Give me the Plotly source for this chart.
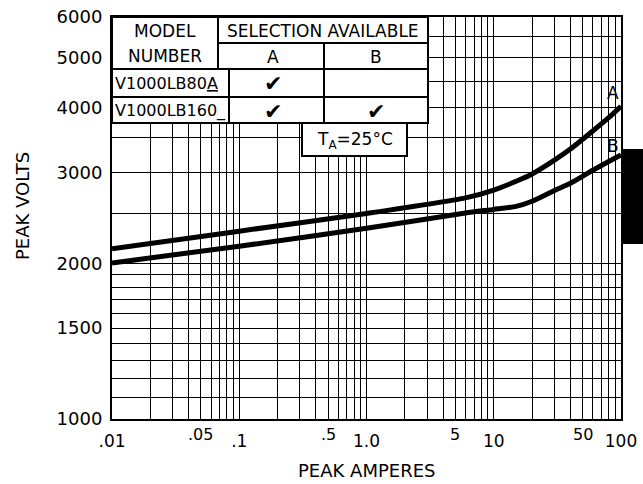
import math
import plotly.graph_objects as go

# ---------------- data ----------------
amps = [0.01, 0.1, 1, 6, 10, 15, 20, 30, 40, 60, 80, 100]
volts_a = [2135, 2310, 2500, 2680, 2775, 2885, 2980, 3170, 3330, 3610, 3830, 4030]
volts_b = [2005, 2160, 2340, 2505, 2545, 2580, 2640, 2770, 2860, 3030, 3150, 3245]

x_grid = [m * 10 ** e for e in (-2, -1, 0, 1) for m in range(1, 10)] + [100]
x_major = [0.01, 0.1, 1, 10, 100]
x_major_text = [".01", ".1", "1.0", "10", "100"]
x_half = [0.05, 0.5, 5, 50]
x_half_text = [".05", ".5", "5", "50"]

y_grid = list(range(1000, 2001, 100)) + list(range(2500, 6001, 500))
y_label_vals = [1000, 1500, 2000, 3000, 4000, 5000, 6000]
y_label_text = ["1000", "1500", "2000", "3000", "4000", "5000", "6000"]

table_header = ["MODEL", "NUMBER", "SELECTION AVAILABLE", "A", "B"]
models = ["V1000LB80<u>A</u>", "V1000LB160_"]
sel_a = [True, True]
sel_b = [False, True]

FONT = "DejaVu Sans"
W, H = 643, 484
# plot area in screenshot pixels: x 112..621, y 17..419
PL, PR, PT, PB = 112, 621, 17, 419
L, T, R, B = PL, PT, W - PR, H - PB
PW, PH = PR - PL, PB - PT


def px(x):
    return (x - PL) / PW


def py(y):
    return (PB - y) / PH


fig = go.Figure()
for ys, name in ((volts_a, "A"), (volts_b, "B")):
    fig.add_trace(go.Scatter(x=amps, y=ys, mode="lines", name=name,
                             line=dict(color="black", width=5, shape="spline", smoothing=0.6),
                             showlegend=False, hoverinfo="skip"))

grid_style = dict(showgrid=True, gridcolor="black", gridwidth=1.3)
fig.update_xaxes(type="log", range=[-2, 2], tickmode="array",
                 tickvals=x_major, ticktext=x_major_text,
                 minor=dict(tickmode="array", tickvals=x_grid, ticks="", **grid_style),
                 **grid_style, automargin=False, ticklabeloverflow="allow",
                 showline=True, linecolor="black", linewidth=2, mirror=True,
                 ticks="", ticklabelstandoff=6, zeroline=False,
                 tickfont=dict(family=FONT, size=17, color="black"))
fig.update_yaxes(type="log", range=[3, math.log10(6000)], tickmode="array",
                 tickvals=y_label_vals, ticktext=y_label_text,
                 minor=dict(tickmode="array", tickvals=y_grid, ticks="", **grid_style),
                 **grid_style, automargin=False, ticklabeloverflow="allow",
                 showline=True, linecolor="black", linewidth=2, mirror=True,
                 ticks="", ticklabelstandoff=4, zeroline=False,
                 tickfont=dict(family=FONT, size=18, color="black"))

shapes = []
ann = []


def line(x0, y0, x1, y1, w=2):
    shapes.append(dict(type="line", xref="paper", yref="paper",
                       x0=px(x0), y0=py(y0), x1=px(x1), y1=py(y1),
                       line=dict(color="black", width=w)))


def text(x, y, s, size=17, xanchor="center", angle=0):
    ann.append(dict(x=px(x), y=py(y), xref="paper", yref="paper", text=s,
                    showarrow=False, xanchor=xanchor, yanchor="middle", textangle=angle,
                    font=dict(family=FONT, size=size, color="black")))


# table background and borders
shapes.append(dict(type="rect", xref="paper", yref="paper", x0=px(112), x1=px(428),
                   y0=py(123), y1=py(17), fillcolor="white",
                   line=dict(color="black", width=2), layer="above"))
line(218, 43, 428, 43)
line(112, 69, 428, 69)
line(112, 97, 428, 97)
line(218, 17, 218, 69)
line(229, 69, 229, 123)
line(324, 43, 324, 123)
# T_A box
shapes.append(dict(type="rect", xref="paper", yref="paper", x0=px(302), x1=px(407),
                   y0=py(156), y1=py(123), fillcolor="white",
                   line=dict(color="black", width=2), layer="above"))
# black tab on the right edge
shapes.append(dict(type="rect", xref="paper", yref="paper", x0=px(622), x1=px(660),
                   y0=py(244), y1=py(149), fillcolor="black",
                   line=dict(color="black", width=0), layer="above"))

text(165, 31, table_header[0])
text(165, 56, table_header[1])
text(323, 31, table_header[2])
text(273, 57, table_header[3])
text(376, 57, table_header[4])
for i, m in enumerate(models):
    yy = 84 + 27 * i
    text(113, yy, m, size=16, xanchor="left")
    if sel_a[i]:
        text(273, yy, "✔", size=22)
    if sel_b[i]:
        text(376, yy, "✔", size=22)
text(355, 140, "T<sub>A</sub>=25°C", size=17)

# curve labels
for lab, yv in (("A", 4280), ("B", 3370)):
    ann.append(dict(x=math.log10(86), y=math.log10(yv), xref="x", yref="y", text=lab,
                    showarrow=False, xanchor="center", yanchor="middle",
                    font=dict(family=FONT, size=17, color="black")))

# half-decade x labels (raised)
for v, s in zip(x_half, x_half_text):
    ann.append(dict(x=math.log10(v), y=py(434), xref="x", yref="paper",
                    text=s, showarrow=False, xanchor="center", yanchor="middle",
                    font=dict(family=FONT, size=16, color="black")))

# axis titles
text(366, 470, "PEAK AMPERES", size=18)
text(22, 206, "PEAK VOLTS", size=18, angle=-90)

fig.update_layout(width=W, height=H, margin=dict(l=L, r=R, t=T, b=B, autoexpand=False),
                  plot_bgcolor="white", paper_bgcolor="white",
                  shapes=shapes, annotations=ann, showlegend=False)
fig.write_html("out.html", config={"displayModeBar": False},
               post_script="document.body.style.margin='0';document.body.style.overflow='hidden';")
